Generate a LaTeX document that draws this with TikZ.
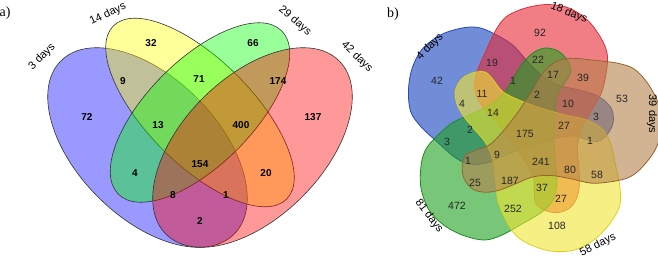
\documentclass[tikz,border=0pt]{standalone}
\usepackage{fontspec}
\setmainfont{Liberation Sans}
\newfontfamily\tnr{Liberation Serif}
\definecolor{vA}{RGB}{0,0,255}
\definecolor{vB}{RGB}{255,255,0}
\definecolor{vC}{RGB}{0,255,0}
\definecolor{vD}{RGB}{255,0,0}
\definecolor{bBlue}{RGB}{20,65,190}
\definecolor{bBlueL}{RGB}{40,70,190}
\definecolor{bRed}{RGB}{230,40,50}
\definecolor{bRedL}{RGB}{215,50,60}
\definecolor{bGreen}{RGB}{30,160,30}
\definecolor{bGreenL}{RGB}{30,140,30}
\definecolor{bYellow}{RGB}{240,230,50}
\definecolor{bYellowL}{RGB}{220,210,30}
\definecolor{bBrown}{RGB}{180,130,75}
\definecolor{bBrownL}{RGB}{150,100,50}
\newcommand{\bshape}{plot[smooth cycle, tension=0.55] coordinates {(533,53) (545,48) (558,51) (567,60) (571,71) (566,81) (558,93) (555,110) (554,135) (555,160) (557,182) (553,200) (542,212) (522,224) (502,235) (485,240) (465,236) (445,226) (429,210) (421,188) (421,166) (425,151) (434,139) (452,123) (472,114) (490,105) (504,93) (514,77) (523,63)}}
\begin{document}
\begin{tikzpicture}[x=1pt,y=-1pt,
  anum/.style={font=\fontsize{10}{12}\selectfont\bfseries, inner sep=0pt},
  bnum/.style={font=\fontsize{10.5}{12}\selectfont, inner sep=0pt, text=black!85},
  setlab/.style={font=\fontsize{11}{13}\selectfont, inner sep=0pt},
  plab/.style={font=\fontsize{14}{16}\selectfont\tnr, inner sep=0pt},
  ellset/.style={draw=black!80, line width=0.6pt, fill opacity=0.4},
  bset/.style={line width=0.8pt, fill opacity=0.6}]
\useasboundingbox[fill=white] (0,0) rectangle (658,258);
% ---------- a) ----------
\path[ellset, fill=vA, rotate around={-45:(147.5,147.5)}] (147.5,147.5) ellipse [x radius=122.5pt, y radius=70pt];
\path[ellset, fill=vB, rotate around={-45:(200,112.5)}] (200,112.5) ellipse [x radius=122.5pt, y radius=52.5pt];
\path[ellset, fill=vC, rotate around={45:(200,112.5)}] (200,112.5) ellipse [x radius=115.5pt, y radius=52.5pt];
\path[ellset, fill=vD, rotate around={45:(252.5,147.5)}] (252.5,147.5) ellipse [x radius=122.5pt, y radius=70pt];
\node[plab] (pa) at (5,13) {a)};
\node[setlab, rotate=45] (la1) at (42,57) {3 days};
\node[setlab, rotate=25] (la2) at (108,14) {14 days};
\node[setlab, rotate=-40] (la3) at (295,21) {29 days};
\node[setlab, rotate=-44] (la4) at (357,57) {42 days};
\node[anum] (na1) at (151,43) {32};
\node[anum] (na2) at (253,43) {66};
\node[anum] (na3) at (123,81) {9};
\node[anum] (na4) at (199,79) {71};
\node[anum] (na5) at (278,81) {174};
\node[anum] (na6) at (87,117) {72};
\node[anum] (na7) at (158,125) {13};
\node[anum] (na8) at (241,125) {400};
\node[anum] (na9) at (313,117) {137};
\node[anum] (na10) at (200,164) {154};
\node[anum] (na11) at (135,173) {4};
\node[anum] (na12) at (266,173) {20};
\node[anum] (na13) at (173,195) {8};
\node[anum] (na14) at (226,195) {1};
\node[anum] (na15) at (200,221) {2};
% ---------- b) ----------
\begin{scope}[shift={(2,-3)}]
 \begin{scope}[rotate around={-72:(533,125)}]
  \path[bset, fill=bBlue, draw=bBlueL] \bshape;
 \end{scope}
\end{scope}
\begin{scope}[shift={(2,13)}]
 \begin{scope}[rotate around={216:(533,125)}]
  \path[bset, fill=bRed, draw=bRedL] \bshape;
 \end{scope}
\end{scope}
\path[bset, fill=bGreen, draw=bGreenL] \bshape;
\begin{scope}[shift={(-8,0)}]
 \begin{scope}[rotate around={72:(533,125)}]
  \path[bset, fill=bYellow, draw=bYellowL] \bshape;
 \end{scope}
\end{scope}
\begin{scope}[shift={(-5,9)}]
 \begin{scope}[rotate around={144:(533,125)}]
  \path[bset, fill=bBrown, draw=bBrownL] \bshape;
 \end{scope}
\end{scope}
\node[plab] (pb) at (393,14) {b)};
\node[setlab, rotate=45] (lb1) at (430,47) {4 days};
\node[setlab, rotate=-22] (lb2) at (569,13) {18 days};
\node[setlab, rotate=-90] (lb3) at (652,114) {39 days};
\node[setlab, rotate=26] (lb4) at (598,245) {58 days};
\node[setlab, rotate=-53] (lb5) at (429,216) {81 days};
\node[bnum] (nb1) at (540,33) {92};
\node[bnum] (nb2) at (492,63) {19};
\node[bnum] (nb3) at (538,60) {22};
\node[bnum] (nb4) at (437,81) {42};
\node[bnum] (nb5) at (513,81) {1};
\node[bnum] (nb6) at (553,75) {17};
\node[bnum] (nb7) at (583,78) {39};
\node[bnum] (nb8) at (482,94) {11};
\node[bnum] (nb9) at (537,95) {2};
\node[bnum] (nb10) at (622,99) {53};
\node[bnum] (nb11) at (462,104) {4};
\node[bnum] (nb12) at (568,104) {10};
\node[bnum] (nb13) at (493,113) {14};
\node[bnum] (nb14) at (596,117) {3};
\node[bnum] (nb15) at (564,126) {27};
\node[bnum] (nb16) at (470,130) {2};
\node[bnum] (nb17) at (525,134) {175};
\node[bnum] (nb18) at (447,142) {3};
\node[bnum] (nb19) at (590,141) {1};
\node[bnum] (nb20) at (497,155) {9};
\node[bnum] (nb21) at (468,161) {1};
\node[bnum] (nb22) at (541,162) {241};
\node[bnum] (nb23) at (570,170) {80};
\node[bnum] (nb24) at (597,175) {58};
\node[bnum] (nb25) at (475,183) {25};
\node[bnum] (nb26) at (510,181) {187};
\node[bnum] (nb27) at (542,188) {37};
\node[bnum] (nb28) at (561,199) {27};
\node[bnum] (nb29) at (457,206) {472};
\node[bnum] (nb30) at (513,209) {252};
\node[bnum] (nb31) at (557,226) {108};
\end{tikzpicture}
\end{document}
